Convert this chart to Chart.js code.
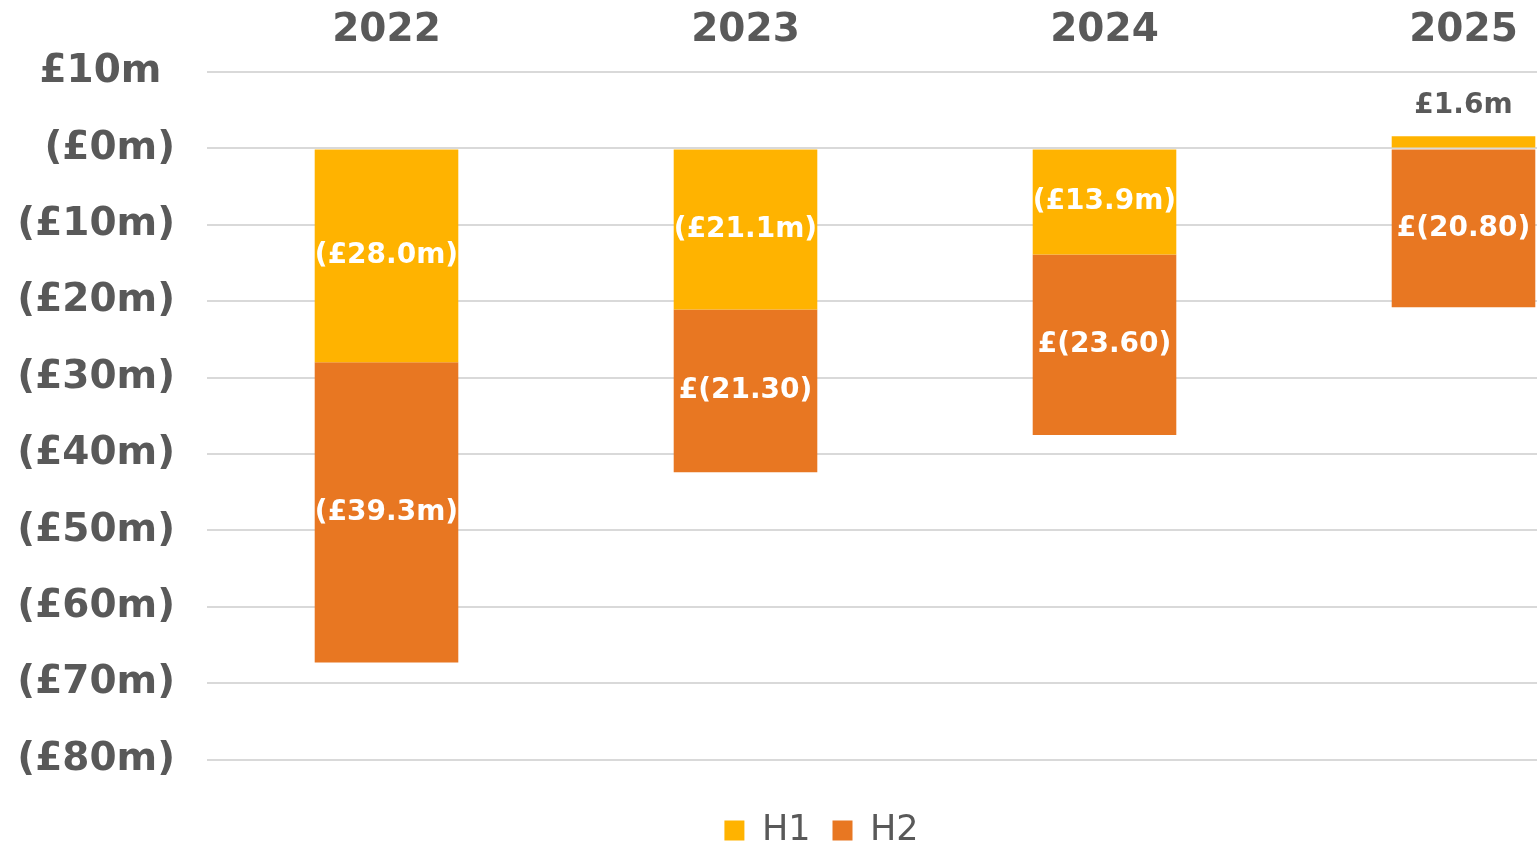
<!DOCTYPE html>
<html>
<head>
<meta charset="utf-8">
<script src="https://cdn.jsdelivr.net/npm/chart.js@4/dist/chart.umd.min.js"></script>
<style>
  html, body { margin: 0; padding: 0; background: #fff; overflow: hidden; }
</style>
</head>
<body>
<canvas id="chart" width="1643" height="858"></canvas>
<script>
const years = ['2022', '2023', '2024', '2025'];
const h1Values = [-28.0, -21.1, -13.9, 1.6];
const h2Values = [-39.3, -21.3, -23.6, -20.8];
const h1Labels = ['(£28.0m)', '(£21.1m)', '(£13.9m)', '£1.6m'];
const h2Labels = ['(£39.3m)', '£(21.30)', '£(23.60)', '£(20.80)'];
const yTickValues = [10, 0, -10, -20, -30, -40, -50, -60, -70, -80];
const yTickLabels = ['£10m ', '(£0m)', '(£10m)', '(£20m)', '(£30m)', '(£40m)', '(£50m)', '(£60m)', '(£70m)', '(£80m)'];

const textGrey = '#595959';
const fontFamily = '"DejaVu Sans", sans-serif';

// Draw the value labels on (or above) each bar
const barLabels = {
    id: 'barLabels',
    afterDatasetsDraw(chart) {
        const ctx = chart.ctx;
        const allLabels = [h1Labels, h2Labels];
        ctx.save();
        ctx.font = 'bold 28px ' + fontFamily;
        ctx.textAlign = 'center';
        ctx.textBaseline = 'middle';
        chart.data.datasets.forEach((ds, di) => {
            const meta = chart.getDatasetMeta(di);
            meta.data.forEach((bar, i) => {
                const value = ds.data[i];
                const text = allLabels[di][i];
                if (value > 0 && Math.abs(bar.base - bar.y) < 40) {
                    ctx.fillStyle = textGrey;
                    ctx.fillText(text, bar.x, bar.y - 30);
                } else {
                    ctx.fillStyle = '#ffffff';
                    ctx.fillText(text, bar.x, (bar.y + bar.base) / 2);
                }
            });
        });
        ctx.restore();
    }
};

const ctx = document.getElementById('chart').getContext('2d');
new Chart(ctx, {
    type: 'bar',
    data: {
        labels: years,
        datasets: [
            { label: 'H1', data: h1Values, backgroundColor: '#FFB300', borderWidth: 0 },
            { label: 'H2', data: h2Values, backgroundColor: '#E87722', borderWidth: 0 }
        ]
    },
    options: {
        responsive: false,
        devicePixelRatio: 1,
        animation: false,
        categoryPercentage: 1.0,
        barPercentage: 0.4,
        layout: { padding: 0 },
        plugins: {
            tooltip: { enabled: false },
            legend: {
                position: 'bottom',
                title: { display: true, text: ' ', font: { size: 12 }, padding: { top: 17, bottom: 0 } },
                labels: {
                    boxWidth: 20,
                    boxHeight: 20,
                    padding: 22,
                    color: textGrey,
                    font: { family: fontFamily, size: 35 }
                }
            }
        },
        scales: {
            x: {
                position: 'top',
                stacked: true,
                grid: { display: false },
                border: { display: false },
                ticks: {
                    color: textGrey,
                    padding: 10,
                    font: { family: fontFamily, size: 39, weight: 'bold' }
                },
                afterFit(scale) { scale.height = 72; }
            },
            y: {
                stacked: true,
                min: -80,
                max: 10,
                afterBuildTicks(scale) {
                    scale.ticks = yTickValues.map(v => ({ value: v }));
                },
                grid: { color: '#D9D9D9', lineWidth: 2, drawTicks: false },
                border: { display: false },
                ticks: {
                    color: textGrey,
                    padding: 32,
                    font: { family: fontFamily, size: 39, weight: 'bold' },
                    callback(value) {
                        const i = yTickValues.indexOf(value);
                        return i >= 0 ? yTickLabels[i] : '';
                    }
                },
                afterFit(scale) { scale.width = 207; }
            }
        }
    },
    plugins: [barLabels]
});
</script>
</body>
</html>
